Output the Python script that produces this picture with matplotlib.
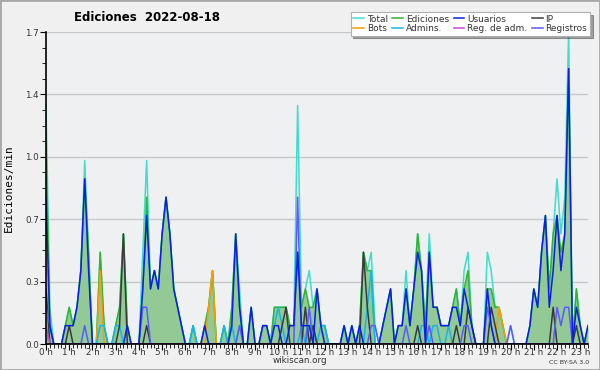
import matplotlib
matplotlib.use("Agg")
import matplotlib.pyplot as plt
import numpy as np
from matplotlib.patches import Rectangle
from matplotlib.ticker import MultipleLocator, FixedLocator

# edits per 10-minute slot (divide by 10 -> edits/min), slots 00:00 .. 23:20
total = [13, 2, 0, 0, 0, 1, 2, 1, 2, 4,
         10, 5, 0, 0, 5, 1, 0, 0, 1, 2,
         6, 1, 0, 0, 0, 5, 10, 3, 4, 3,
         6, 8, 6, 3, 2, 1, 0, 0, 1, 0,
         0, 1, 2, 4, 0, 0, 1, 0, 2, 6,
         3, 0, 0, 2, 0, 0, 1, 1, 0, 2,
         2, 2, 2, 1, 1, 13, 2, 3, 4, 2,
         3, 1, 1, 0, 0, 0, 0, 1, 0, 1,
         0, 1, 5, 4, 5, 1, 0, 1, 2, 3,
         0, 1, 1, 4, 1, 3, 6, 4, 1, 6,
         2, 2, 1, 1, 1, 2, 3, 1, 4, 5,
         1, 0, 0, 0, 5, 4, 2, 2, 1, 0,
         1, 0, 0, 0, 0, 1, 3, 2, 5, 7,
         3, 6, 9, 6, 8, 17, 0, 3, 1, 0, 1]
ediciones = [11, 1, 0, 0, 0, 1, 2, 1, 2, 4,
             9, 5, 0, 0, 5, 1, 0, 0, 1, 2,
             6, 1, 0, 0, 0, 3, 8, 3, 4, 3,
             6, 8, 6, 3, 2, 1, 0, 0, 1, 0,
             0, 1, 2, 4, 0, 0, 1, 0, 2, 6,
             2, 0, 0, 2, 0, 0, 1, 1, 0, 2,
             2, 2, 2, 1, 1, 5, 2, 3, 2, 2,
             3, 1, 1, 0, 0, 0, 0, 1, 0, 1,
             0, 1, 5, 4, 4, 0, 0, 1, 2, 3,
             0, 1, 1, 3, 1, 3, 6, 4, 1, 5,
             2, 2, 1, 1, 1, 2, 3, 1, 3, 4,
             1, 0, 0, 0, 3, 3, 2, 2, 1, 0,
             0, 0, 0, 0, 0, 1, 3, 2, 5, 7,
             3, 6, 7, 5, 6, 15, 0, 3, 1, 0, 1]
usuarios = [8, 1, 0, 0, 0, 1, 1, 1, 2, 4,
            9, 4, 0, 0, 0, 0, 0, 0, 0, 0,
            0, 1, 0, 0, 0, 3, 7, 3, 4, 3,
            6, 8, 6, 3, 2, 1, 0, 0, 0, 0,
            0, 1, 0, 0, 0, 0, 0, 0, 1, 6,
            2, 0, 0, 2, 0, 0, 1, 1, 0, 1,
            1, 0, 0, 1, 1, 5, 1, 1, 1, 0,
            3, 1, 0, 0, 0, 0, 0, 1, 0, 1,
            0, 1, 0, 0, 0, 0, 0, 1, 2, 3,
            0, 1, 1, 3, 1, 3, 5, 4, 0, 5,
            2, 2, 1, 1, 1, 2, 2, 1, 3, 2,
            1, 0, 0, 0, 3, 1, 0, 0, 0, 0,
            0, 0, 0, 0, 0, 1, 3, 2, 5, 7,
            2, 4, 7, 4, 6, 15, 0, 2, 1, 0, 1]
ip = [3, 0, 0, 0, 0, 0, 1, 0, 0, 0,
      0, 0, 0, 0, 0, 0, 0, 0, 0, 1,
      6, 0, 0, 0, 0, 0, 1, 0, 0, 0,
      0, 0, 0, 0, 0, 0, 0, 0, 0, 0,
      0, 0, 0, 0, 0, 0, 0, 0, 0, 0,
      0, 0, 0, 0, 0, 0, 0, 0, 0, 0,
      0, 1, 2, 0, 0, 0, 0, 2, 0, 1,
      0, 0, 0, 0, 0, 0, 0, 0, 0, 0,
      0, 0, 5, 2, 0, 0, 0, 0, 0, 0,
      0, 0, 0, 0, 0, 0, 1, 0, 0, 0,
      0, 0, 0, 0, 0, 0, 1, 0, 0, 2,
      1, 0, 0, 0, 0, 2, 1, 0, 0, 0,
      0, 0, 0, 0, 0, 0, 0, 0, 0, 0,
      0, 2, 0, 0, 0, 0, 0, 1, 0, 0, 0]
bots = [0] * 14 + [4] + [0] * 27 + [2, 4] + [0] * 73 + [2, 1] + [0] * 22
admins = [0, 1, 0, 0, 0, 0, 0, 0, 0, 0,
          0, 0, 0, 0, 1, 1, 0, 0, 1, 1,
          0, 0, 0, 0, 0, 0, 0, 0, 0, 0,
          0, 0, 0, 0, 0, 0, 0, 0, 1, 0,
          0, 0, 0, 0, 0, 0, 1, 0, 1, 0,
          1, 0, 0, 0, 0, 0, 0, 0, 0, 1,
          2, 1, 0, 0, 0, 0, 1, 0, 1, 1,
          0, 1, 1, 0, 0, 0, 0, 0, 0, 0,
          0, 0, 0, 2, 4, 0, 0, 0, 0, 0,
          0, 0, 0, 0, 0, 0, 0, 1, 1, 0,
          1, 1, 0, 0, 1, 0, 0, 0, 0, 0,
          0, 0, 0, 0, 0, 0, 0, 0, 0, 0,
          0, 0, 0, 0, 0, 0, 0, 0, 0, 0,
          0, 0, 0, 0, 0, 0, 0, 0, 0, 0, 0]
reg_adm = [1] + [0] * 140
registros = [2, 1, 0, 0, 0, 0, 0, 0, 0, 0,
             1, 0, 0, 0, 0, 0, 0, 0, 0, 0,
             0, 0, 0, 0, 0, 2, 2, 0, 0, 0,
             0, 0, 0, 0, 0, 0, 0, 0, 0, 0,
             0, 0, 0, 0, 0, 0, 0, 0, 0, 0,
             1, 0, 0, 0, 0, 0, 0, 0, 0, 0,
             0, 0, 0, 0, 0, 8, 0, 0, 2, 0,
             0, 0, 0, 0, 0, 0, 0, 0, 0, 0,
             0, 0, 0, 0, 1, 1, 0, 0, 0, 0,
             0, 0, 0, 1, 0, 0, 0, 0, 0, 1,
             0, 0, 0, 0, 0, 0, 0, 0, 1, 1,
             0, 0, 0, 0, 2, 1, 0, 0, 0, 0,
             1, 0, 0, 0, 0, 0, 0, 0, 0, 0,
             0, 0, 2, 1, 2, 2, 0, 0, 0, 0, 0]
hours = list(range(24))

slots = np.arange(len(total))
per_min = lambda a: np.array(a) / 10.0

fig = plt.figure(figsize=(6, 3.7), dpi=100, facecolor="#f0f0f0")
fig.patches.append(Rectangle((0, 0), 1, 1, transform=fig.transFigure,
                             fill=False, edgecolor="#a8a8a8", lw=2))
ax = fig.add_axes([46 / 600, 1 - 344 / 370, 542 / 600, 312 / 370])
ax.set_facecolor("#eef0f2")

ax.fill_between(slots, per_min(ediciones), color="#92c995", lw=0)
series = [
    ("Total", total, "#40dccc"),
    ("Ediciones", ediciones, "#2fb52f"),
    ("Bots", bots, "#ff9a00"),
    ("Admins.", admins, "#13b6e6"),
    ("IP", ip, "#3a3a3a"),
    ("Registros", registros, "#5a5aff"),
    ("Reg. de adm.", reg_adm, "#d040d8"),
    ("Usuarios", usuarios, "#0a1ee6"),
]
lines = {}
for name, vals, col in series:
    lines[name], = ax.plot(slots, per_min(vals), color=col, lw=1.1)

ax.set_xlim(0, len(total) - 1)
ax.set_ylim(0, 1.7)
yt = np.linspace(0, 1.7, 6)
ax.yaxis.set_major_locator(FixedLocator(yt))
ax.set_yticklabels([f"{v:.1f}" for v in yt])
ax.yaxis.set_minor_locator(MultipleLocator(1.7 / 20))
ax.xaxis.set_major_locator(FixedLocator([h * 6 for h in hours]))
ax.set_xticklabels([f"{h} h" for h in hours])
ax.xaxis.set_minor_locator(MultipleLocator(1))
ax.grid(axis="y", color="#c8c8c8", lw=1)
ax.set_axisbelow(True)
for s in ("top", "right"):
    ax.spines[s].set_visible(False)
ax.spines["left"].set_linewidth(1.2)
ax.spines["bottom"].set_linewidth(1.2)
ax.tick_params(axis="both", which="major", labelsize=6.3, length=4,
               colors="black", labelcolor="#333333")
ax.tick_params(axis="x", which="major", pad=-1)
ax.tick_params(axis="y", which="major", pad=1)
ax.tick_params(axis="both", which="minor", length=3)

ax.set_ylabel("Ediciones/min", family="DejaVu Sans Mono", fontsize=8, labelpad=8)
fig.text(0.245, 0.953, "Ediciones  2022-08-18", fontsize=8.5, fontweight="bold",
         ha="center", va="center")
fig.text(0.5, 0.025, "wikiscan.org", fontsize=6.3, color="#333333",
         ha="center", va="center")
fig.text(0.982, 0.02, "CC BY-SA 3.0", fontsize=4.5, color="#333333",
         ha="right", va="center")

order = ["Total", "Bots", "Ediciones", "Admins.", "Usuarios", "Reg. de adm.",
         "IP", "Registros"]
leg = fig.legend([lines[n] for n in order], order, ncol=4, loc="upper right",
                 bbox_to_anchor=(0.983, 0.968), fontsize=6.5, frameon=True,
                 fancybox=False, shadow=True, handlelength=1.2,
                 handletextpad=0.3, columnspacing=0.5, labelspacing=0.05,
                 borderpad=0.3, borderaxespad=0)
leg.get_frame().set_edgecolor("#b0b0b0")
leg.get_frame().set_linewidth(0.8)
for t in leg.get_texts():
    t.set_color("#333333")

fig.savefig("out.png", dpi=100, facecolor=fig.get_facecolor())
